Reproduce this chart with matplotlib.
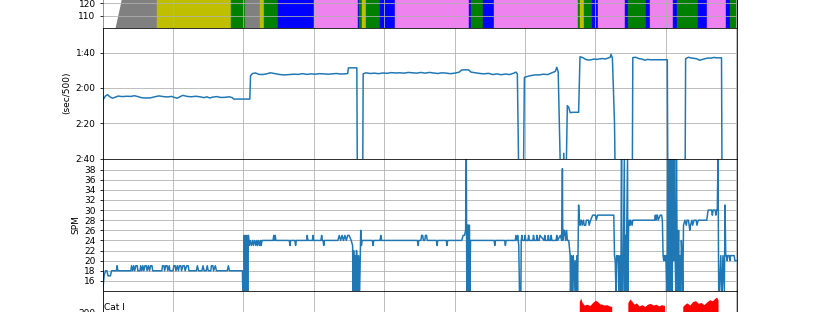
import numpy as np
import matplotlib
matplotlib.use("Agg")
import matplotlib.pyplot as plt

# ---------------- data ----------------
# heart-rate zones (distance units, one grid step = 1)
hr_ramp_x = [0.0, 0.175, 0.274]
hr_ramp_bpm = [92, 100, 126]
hr_seg_start = [0.274, 0.767, 1.822, 2.021, 2.234, 2.287, 2.490, 3.001, 3.626, 3.640, 3.683,
                3.733, 3.939, 4.152, 5.203, 5.227, 5.402, 5.565, 6.747, 6.780, 6.837, 6.950,
                7.031, 7.419, 7.457, 7.713, 7.778, 8.101, 8.153, 8.460, 8.580, 8.854, 8.906]
hr_seg_bpm = [126, 135, 145, 127, 135, 145, 155, 165, 155, 145, 135, 145, 155, 165, 155, 145,
              155, 165, 145, 135, 145, 155, 165, 155, 145, 155, 165, 155, 145, 155, 165, 155, 145]
hr_end = 9.02
hr_zone_edges = [130, 140, 150, 160]
hr_zone_colors = ['gray', 'y', 'g', 'b', 'violet']
hr_ticks = [110, 120]

# pace (seconds per 500 m)
pace_x = [0.00, 0.04, 0.07, 0.10, 0.14, 0.18, 0.22, 0.28, 0.34, 0.40, 0.45, 0.50, 0.56, 0.62,
          0.68, 0.74, 0.80, 0.86, 0.92, 0.98, 1.02, 1.06, 1.10, 1.14, 1.20, 1.26, 1.32, 1.38,
          1.44, 1.48, 1.52, 1.56, 1.62, 1.68, 1.74, 1.80, 1.84, 1.86, 2.09, 2.10, 2.13, 2.17,
          2.22, 2.27, 2.33, 2.38, 2.45, 2.52, 2.58, 2.65, 2.72, 2.78, 2.84, 2.90, 2.96, 3.02,
          3.08, 3.14, 3.20, 3.26, 3.32, 3.38, 3.44, 3.48, 3.49, 3.61, 3.62, 3.69, 3.70, 3.74,
          3.80, 3.86, 3.92, 3.98, 4.04, 4.10, 4.16, 4.22, 4.28, 4.34, 4.40, 4.46, 4.52, 4.58,
          4.64, 4.70, 4.76, 4.82, 4.88, 4.94, 5.00, 5.06, 5.10, 5.16, 5.20, 5.23, 5.30, 5.36,
          5.42, 5.48, 5.54, 5.60, 5.66, 5.72, 5.78, 5.84, 5.87, 5.89, 5.92, 5.97, 5.99, 6.03,
          6.08, 6.14, 6.20, 6.26, 6.32, 6.38, 6.43, 6.45, 6.47, 6.52, 6.55, 6.57, 6.60, 6.62,
          6.64, 6.68, 6.76, 6.78, 6.82, 6.86, 6.90, 6.94, 6.98, 7.02, 7.06, 7.10, 7.14, 7.18,
          7.21, 7.22, 7.24, 7.27, 7.29, 7.52, 7.53, 7.57, 7.62, 7.66, 7.70, 7.74, 7.78, 7.84,
          7.90, 7.96, 8.02, 8.03, 8.27, 8.28, 8.32, 8.36, 8.40, 8.44, 8.48, 8.52, 8.56, 8.60,
          8.64, 8.68, 8.72, 8.79, 8.80, 9.02]
pace_s = [127.0, 124.5, 123.8, 125.0, 125.8, 125.2, 124.6, 124.9, 124.7, 124.8, 124.4, 124.9,
          125.6, 125.7, 125.6, 125.0, 124.5, 124.9, 125.1, 124.8, 125.4, 125.8, 124.9, 124.2,
          124.8, 125.0, 124.7, 125.0, 125.5, 125.0, 125.7, 125.2, 124.9, 125.4, 125.3, 125.0,
          125.5, 126.3, 126.3, 113.0, 111.8, 111.5, 112.3, 112.4, 112.0, 111.4, 111.9, 112.4,
          112.6, 112.4, 112.2, 112.3, 111.9, 112.3, 112.0, 112.2, 111.9, 112.0, 112.2, 112.0,
          111.8, 112.1, 112.0, 111.8, 108.6, 108.6, 200, 200, 112.0, 111.4, 111.8, 111.6,
          111.9, 111.5, 111.7, 111.3, 111.5, 111.4, 111.6, 111.2, 111.4, 111.6, 111.2, 111.6,
          111.2, 111.5, 111.8, 111.4, 111.6, 111.9, 111.6, 111.1, 109.8, 109.7, 109.8, 111.0,
          111.4, 111.8, 112.0, 111.7, 112.4, 112.0, 112.5, 112.1, 112.4, 111.6, 111.0, 112.0,
          200, 200, 114.0, 113.5, 113.0, 112.6, 112.6, 112.2, 112.4, 111.4, 110.6, 108.3,
          110.8, 200, 157, 200, 130, 131, 134, 133.8, 133.8, 102.3, 102.8, 103.8, 104.2, 104.0,
          103.6, 103.8, 103.5, 103.3, 103.6, 103.0, 102.6, 100.9, 103.0, 140, 200, 200, 102.8,
          102.6, 103.4, 103.6, 104.3, 103.8, 104.0, 104.0, 104.0, 104.0, 104.0, 200, 200, 103.4,
          102.6, 103.0, 103.2, 103.5, 104.3, 103.8, 103.4, 103.0, 103.1, 102.7, 102.9, 102.9,
          200, 200]
pace_ticks = [100, 120, 140, 160]
pace_labels = ['1:40', '2:00', '2:20', '2:40']

# stroke rate (strokes per minute)
spm_x = [0.000, 0.020, 0.040, 0.060, 0.075, 0.110, 0.125, 0.195, 0.205, 0.215, 0.400, 0.410,
         0.425, 0.440, 0.455, 0.470, 0.490, 0.500, 0.530, 0.540, 0.555, 0.570, 0.585, 0.600,
         0.620, 0.630, 0.650, 0.665, 0.680, 0.700, 0.710, 0.840, 0.850, 0.870, 0.880, 0.895,
         0.915, 0.925, 0.945, 0.955, 1.000, 1.010, 1.030, 1.040, 1.060, 1.075, 1.090, 1.110,
         1.120, 1.140, 1.160, 1.170, 1.195, 1.215, 1.225, 1.330, 1.345, 1.360, 1.410, 1.425,
         1.440, 1.470, 1.485, 1.500, 1.535, 1.545, 1.565, 1.575, 1.600, 1.615, 1.770, 1.785,
         1.800, 1.985, 1.990, 2.005, 2.010, 2.020, 2.030, 2.040, 2.050, 2.060, 2.070, 2.080,
         2.095, 2.110, 2.130, 2.140, 2.160, 2.175, 2.190, 2.200, 2.215, 2.230, 2.245, 2.250,
         2.265, 2.420, 2.430, 2.440, 2.450, 2.460, 2.650, 2.660, 2.670, 2.730, 2.740, 2.750,
         2.900, 2.905, 2.915, 2.980, 2.985, 2.995, 3.100, 3.110, 3.120, 3.130, 3.140, 3.150,
         3.340, 3.360, 3.380, 3.400, 3.420, 3.440, 3.460, 3.480, 3.500, 3.530, 3.550, 3.555,
         3.565, 3.575, 3.585, 3.595, 3.605, 3.615, 3.625, 3.635, 3.650, 3.665, 3.675, 3.685,
         3.830, 3.840, 3.850, 3.940, 3.950, 3.960, 4.470, 4.480, 4.490, 4.520, 4.530, 4.545,
         4.555, 4.575, 4.585, 4.600, 4.610, 4.740, 4.750, 4.760, 4.880, 4.890, 4.900, 5.100,
         5.120, 5.140, 5.155, 5.165, 5.172, 5.180, 5.190, 5.195, 5.200, 5.210, 5.215, 5.225,
         5.560, 5.570, 5.580, 5.710, 5.720, 5.730, 5.860, 5.870, 5.885, 5.895, 5.910, 5.920,
         5.940, 5.945, 5.955, 5.965, 5.990, 6.000, 6.010, 6.040, 6.050, 6.060, 6.110, 6.120,
         6.130, 6.160, 6.170, 6.180, 6.200, 6.210, 6.270, 6.280, 6.290, 6.320, 6.330, 6.340,
         6.360, 6.370, 6.380, 6.440, 6.450, 6.460, 6.500, 6.520, 6.530, 6.535, 6.545, 6.550,
         6.560, 6.575, 6.590, 6.600, 6.620, 6.640, 6.645, 6.655, 6.665, 6.675, 6.685, 6.695,
         6.710, 6.720, 6.735, 6.745, 6.760, 6.770, 6.780, 6.790, 6.800, 6.810, 6.830, 6.840,
         6.860, 6.870, 6.900, 6.910, 6.930, 6.960, 7.000, 7.010, 7.030, 7.260, 7.270, 7.280,
         7.290, 7.300, 7.310, 7.320, 7.330, 7.340, 7.350, 7.360, 7.370, 7.375, 7.390, 7.410,
         7.415, 7.425, 7.435, 7.455, 7.460, 7.470, 7.480, 7.490, 7.500, 7.520, 7.530, 7.840,
         7.850, 7.860, 7.870, 7.880, 7.890, 7.920, 7.940, 7.950, 7.960, 7.970, 7.980, 7.990,
         8.000, 8.010, 8.020, 8.025, 8.035, 8.045, 8.050, 8.060, 8.070, 8.080, 8.090, 8.100,
         8.110, 8.120, 8.130, 8.140, 8.150, 8.160, 8.170, 8.180, 8.190, 8.200, 8.210, 8.220,
         8.230, 8.240, 8.250, 8.270, 8.290, 8.300, 8.320, 8.330, 8.340, 8.350, 8.370, 8.380,
         8.400, 8.430, 8.440, 8.460, 8.580, 8.600, 8.650, 8.660, 8.670, 8.700, 8.710, 8.720,
         8.730, 8.740, 8.750, 8.760, 8.780, 8.790, 8.800, 8.810, 8.830, 8.840, 8.850, 8.860,
         8.870, 8.880, 8.900, 8.910, 8.920, 8.970, 8.980, 9.020]
spm_v = [14, 17, 18, 18, 17, 17, 18, 18, 19, 18, 18, 19,
         18, 19, 18, 19, 19, 18, 18, 19, 18, 19, 18, 19,
         19, 18, 19, 18, 19, 19, 18, 18, 19, 19, 18, 19,
         19, 18, 19, 18, 18, 19, 19, 18, 19, 18, 19, 19,
         18, 19, 19, 18, 19, 19, 18, 18, 19, 18, 18, 19,
         18, 18, 19, 18, 18, 19, 19, 18, 19, 18, 18, 19,
         18, 18, 14, 14, 25, 14, 25, 14, 25, 14, 25, 23,
         24, 23, 24, 23, 24, 23, 24, 23, 24, 23, 24, 23,
         24, 24, 25, 24, 25, 24, 24, 23, 24, 24, 23, 24,
         24, 25, 24, 24, 25, 24, 24, 25, 24, 24, 23, 24,
         24, 25, 24, 25, 24, 25, 24, 25, 25, 24, 23, 14,
         22, 14, 21, 14, 22, 20, 14, 21, 14, 26, 23, 24,
         24, 23, 24, 24, 25, 24, 24, 23, 24, 24, 25, 25,
         24, 24, 25, 25, 24, 24, 23, 24, 24, 23, 24, 24,
         25, 25, 26, 40.5, 14, 27, 27, 14, 27, 27, 14, 24,
         24, 23, 24, 24, 23, 24, 24, 25, 24, 25, 23, 14,
         14, 24, 25, 24, 24, 25, 24, 24, 25, 24, 24, 25,
         24, 24, 25, 24, 24, 25, 24, 25, 24, 24, 25, 24,
         24, 25, 24, 24, 25, 24, 25, 24, 38.2, 24, 26, 25,
         26, 24, 26, 24, 24, 21, 14, 21, 14, 20, 21, 14,
         20, 14, 21, 14, 31, 28, 27, 28, 28, 27, 28, 27,
         27, 28, 28, 27, 28, 29, 29, 28, 29, 29, 21, 20,
         14, 21, 20, 21, 14, 20, 21, 14, 40.5, 14, 14, 40.5,
         14, 25, 14, 40.5, 14, 27, 28, 27, 28, 27, 28, 28,
         29, 28, 29, 29, 28, 29, 29, 28, 21, 20, 21, 20,
         21, 14, 20, 40.5, 14, 40.5, 20, 14, 40.5, 21, 14, 40.5,
         20, 40.5, 22, 14, 40.5, 21, 14, 26, 14, 21, 14, 24,
         21, 14, 27, 28, 27, 28, 28, 27, 26, 27, 28, 27,
         28, 28, 27, 28, 28, 30, 30, 29, 30, 30, 29, 30,
         30, 40.5, 14, 14, 21, 14, 14, 21, 14, 31, 21, 21,
         20, 21, 21, 20, 21, 21, 20, 20]
spm_ticks = [16, 18, 20, 22, 24, 26, 28, 30, 32, 34, 36, 38]

# bottom panel (red filled series)
red_x = [0.00, 6.76, 6.77, 6.79, 6.81, 6.84, 6.88, 6.92, 6.96, 7.00, 7.03, 7.06, 7.09, 7.12,
         7.16, 7.20, 7.23, 7.24, 7.45, 7.46, 7.49, 7.52, 7.55, 7.58, 7.62, 7.66, 7.70, 7.74,
         7.78, 7.82, 7.86, 7.90, 7.94, 7.98, 7.99, 8.23, 8.24, 8.27, 8.30, 8.34, 8.38, 8.42,
         8.46, 8.50, 8.54, 8.58, 8.62, 8.66, 8.70, 8.72, 8.74, 8.75, 9.02]
red_v = [0, 0, 226, 234, 224, 218, 220, 217, 224, 229, 226, 221, 220, 218,
         219, 216, 215, 0, 0, 224, 232, 226, 220, 223, 216, 219, 215, 220,
         222, 218, 220, 216, 219, 217, 0, 0, 215, 220, 223, 218, 226, 228,
         222, 224, 219, 225, 230, 228, 234, 236, 230, 0, 0]
bottom_ticks = [200]
bottom_text = "Cat I"

x_ticks = list(range(0, 10))
x_max = 9.01

# ---------------- figure ----------------
W, H = 819, 312
fig = plt.figure(figsize=(W / 72, H / 72), dpi=72)
plt.rcParams['font.family'] = ['DejaVu Sans']

L = 102.7 / W
Wd = (737 - 102.7) / W

def pos(top_px, bottom_px):
    return [L, (H - bottom_px) / H, Wd, (bottom_px - top_px) / H]

ax_hr = fig.add_axes(pos(28 - 120, 28))
ax_pace = fig.add_axes(pos(28, 158.5))
ax_spm = fig.add_axes(pos(158.5, 291))
ax_bot = fig.add_axes(pos(291, 401))

FS = 9
for ax in (ax_hr, ax_pace, ax_spm, ax_bot):
    ax.set_xlim(0, x_max)
    ax.set_xticks(x_ticks)
    ax.tick_params(axis='x', length=0, labelbottom=False)
    ax.tick_params(axis='y', labelsize=FS)
    ax.grid(True, color='#b0b0b0', lw=0.8)

# heart rate
def zone_color(b):
    return hr_zone_colors[int(np.searchsorted(hr_zone_edges, b, side='right'))]

ax_hr.fill_between(hr_ramp_x, 0, hr_ramp_bpm, color=zone_color(hr_ramp_bpm[0]), lw=0)
ends = hr_seg_start[1:] + [hr_end]
for s, e, b in zip(hr_seg_start, ends, hr_seg_bpm):
    c = zone_color(b)
    ax_hr.fill_between([s, e], 0, [b, b], color=c, lw=0.4, edgecolor=c)
ax_hr.set_ylim(100, 100 + 120 / 1.23)
ax_hr.set_yticks(hr_ticks)
ax_hr.set_axisbelow(False)

# pace
ax_pace.plot(pace_x, pace_s, color='#1f77b4', lw=1.5)
ax_pace.set_ylim(160, 86)
ax_pace.set_yticks(pace_ticks)
ax_pace.set_yticklabels(pace_labels)
ax_pace.set_ylabel('(sec/500)', fontsize=FS)
ax_pace.set_axisbelow(True)

# spm
ax_spm.plot(spm_x, spm_v, color='#1f77b4', lw=1.5)
ax_spm.set_ylim(14, 40.2)
ax_spm.set_yticks(spm_ticks)
ax_spm.set_ylabel('SPM', fontsize=FS)
ax_spm.set_axisbelow(True)

# bottom
ax_bot.fill_between(red_x, 0, red_v, color='red', lw=0)
ax_bot.set_ylim(0, 250)
ax_bot.set_yticks(bottom_ticks)
ax_bot.set_axisbelow(True)
ax_bot.text(0.002, 1 - 12 / 110, bottom_text, transform=ax_bot.transAxes,
            fontsize=FS, va='top', ha='left')

fig.savefig('out.png', dpi=72)
